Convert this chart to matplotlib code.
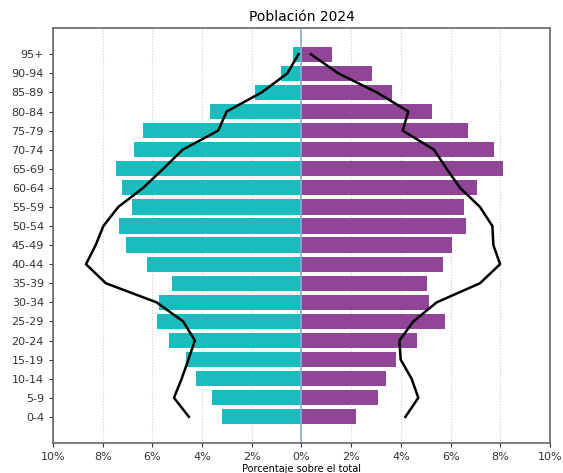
import matplotlib
matplotlib.use("Agg")
import matplotlib.pyplot as plt
import numpy as np

# Age groups from youngest to oldest
age_groups = ["0-4", "5-9", "10-14", "15-19", "20-24", "25-29", "30-34", "35-39",
              "40-44", "45-49", "50-54", "55-59", "60-64", "65-69", "70-74",
              "75-79", "80-84", "85-89", "90-94", "95+"]

# Share of total population (%) in 2024
men_2024 = [3.19, 3.60, 4.25, 4.65, 5.33, 5.80, 5.72, 5.20, 6.23, 7.06,
            7.34, 6.83, 7.24, 7.46, 6.73, 6.37, 3.68, 1.87, 0.82, 0.33]
women_2024 = [2.19, 3.08, 3.40, 3.79, 4.64, 5.76, 5.12, 5.04, 5.68, 6.07,
              6.61, 6.55, 7.05, 8.12, 7.76, 6.69, 5.24, 3.63, 2.82, 1.24]

# Reference profile drawn as outline
men_ref = [4.53, 5.13, 4.82, 4.55, 4.29, 4.76, 5.83, 7.87, 8.67, 8.28,
           7.97, 7.37, 6.37, 5.56, 4.78, 3.35, 3.01, 1.60, 0.57, 0.12]
women_ref = [4.18, 4.70, 4.43, 3.99, 3.94, 4.50, 5.44, 7.18, 7.99, 7.72,
             7.68, 7.18, 6.38, 5.84, 5.33, 4.07, 4.30, 3.03, 1.48, 0.38]

x_ticks = [-10, -8, -6, -4, -2, 0, 2, 4, 6, 8, 10]
x_tick_labels = ["10%", "8%", "6%", "4%", "2%", "0%", "2%", "4%", "6%", "8%", "10%"]

fig = plt.figure(figsize=(5.63, 4.73), dpi=100)
ax = fig.add_axes([0.094, 0.063, 0.883, 0.878])

y = np.arange(len(age_groups))
ax.barh(y, -np.array(men_2024), height=0.8, color="#19bdbd", zorder=2)
ax.barh(y, women_2024, height=0.8, color="#904597", zorder=2)
ax.plot(-np.array(men_ref), y, color="black", lw=1.8, zorder=3)
ax.plot(women_ref, y, color="black", lw=1.8, zorder=3)

ax.axvline(0, color="#8fa8d8", lw=1.2, zorder=2.5)

ax.set_xlim(-10, 10)
ax.set_ylim(-1.38, 20.38)
ax.set_xticks(x_ticks)
ax.set_xticklabels(x_tick_labels, fontsize=8)
ax.set_yticks(y)
ax.set_yticklabels(age_groups, fontsize=8)
ax.grid(axis="x", color="#cccccc", ls=":", lw=0.8, zorder=0)
ax.set_axisbelow(True)

for s in ax.spines.values():
    s.set_color("#666666")
    s.set_linewidth(1.2)
ax.tick_params(colors="#333333", length=3)

ax.set_title("Población 2024", fontsize=10, pad=5)
ax.set_xlabel("Porcentaje sobre el total", fontsize=7, labelpad=1)

fig.savefig("out.png", dpi=100)
